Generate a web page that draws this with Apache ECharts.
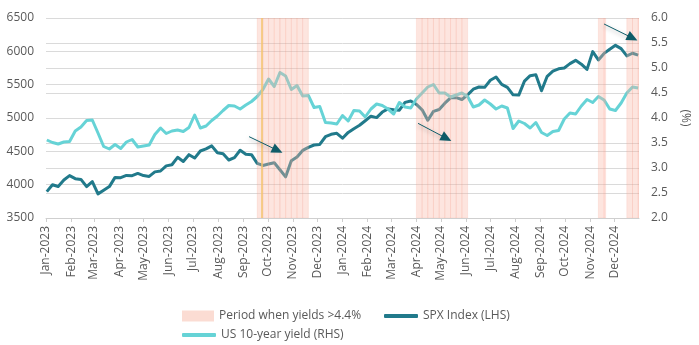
<!DOCTYPE html>
<html>
<head>
<meta charset="utf-8">
<script src="https://cdn.jsdelivr.net/npm/echarts@6/dist/echarts.min.js"></script>
<style>
html,body{margin:0;padding:0;background:#fff;}
#chart{width:699px;height:345px;}
</style>
</head>
<body>
<div id="chart"></div>
<script>
// ---- data (weekly, dated at start of week) ----
const firstWeek = [2023, 0, 2];
const spx = [
  3895,3999,3973,4071, 4136,4090,4079,3970, 4046,3862,3917,3971,4109,
  4105,4138,4134,4169, 4136,4124,4192,4205, 4282,4299,4410,4348,4450,
  4399,4505,4536,4582, 4478,4464,4370,4406, 4516,4457,4450,4320,4288,
  4309,4328,4224,4117, 4358,4415,4514,4559, 4595,4604,4719,4755,4770,
  4697,4784,4840,4891, 4959,5027,5006,5089, 5137,5124,5117,5234,5254,
  5204,5123,4967,5100, 5128,5223,5303,5305,5278, 5347,5432,5465,5460,
  5567,5615,5505,5459, 5347,5344,5554,5635,5648, 5408,5626,5703,5738,
  5751,5815,5865,5808, 5729,5996,5871,5969,6032, 6090,6040,5931,5971,
  5942
];
const yield10 = [
  3.56,3.51,3.48,3.52, 3.53,3.74,3.82,3.95, 3.96,3.70,3.43,3.38,3.47,
  3.39,3.52,3.57,3.42, 3.44,3.46,3.67,3.80, 3.69,3.74,3.76,3.73,3.81,
  4.06,3.80,3.84,3.95, 4.04,4.15,4.25,4.24, 4.18,4.26,4.33,4.43,4.57,
  4.78,4.63,4.91,4.84, 4.57,4.65,4.44,4.45, 4.21,4.23,3.91,3.90,3.88,
  4.05,3.94,4.15,4.14, 4.02,4.18,4.28,4.25, 4.18,4.08,4.31,4.22,4.20,
  4.38,4.50,4.62,4.67, 4.50,4.50,4.42,4.46,4.50, 4.43,4.22,4.26,4.36,
  4.28,4.18,4.24,4.20, 3.79,3.94,3.89,3.80,3.91, 3.71,3.65,3.73,3.75,
  3.98,4.10,4.08,4.24, 4.37,4.31,4.43,4.36,4.18, 4.15,4.30,4.50,4.62,
  4.60
];
// shaded periods (yields > 4.4%), weekly blocks
const shadeStart = ['2023-09-18','2023-09-25','2023-10-02','2023-10-09','2023-10-16','2023-10-23','2023-10-30','2023-11-06','2023-11-13',
  '2024-04-01','2024-04-08','2024-04-15','2024-04-22','2024-04-29','2024-05-06','2024-05-13','2024-05-20','2024-05-27',
  '2024-11-11','2024-11-18','2024-12-16','2024-12-23','2024-12-30'];
const shadeEnd = ['2023-09-25','2023-10-02','2023-10-09','2023-10-16','2023-10-23','2023-10-30','2023-11-06','2023-11-13','2023-11-20',
  '2024-04-08','2024-04-15','2024-04-22','2024-04-29','2024-05-06','2024-05-13','2024-05-20','2024-05-27','2024-06-03',
  '2024-11-18','2024-11-20','2024-12-23','2024-12-30','2024-12-31'];
const markerDate = '2023-09-24';
// annotation arrows on SPX scale
const arrowStart = [['2023-09-08',4720],['2024-04-03',4920],['2024-11-18',6410]];
const arrowEnd   = [['2023-10-13',4515],['2024-05-08',4695],['2024-12-23',6200]];
const monthNames = ['Jan','Feb','Mar','Apr','May','Jun','Jul','Aug','Sep','Oct','Nov','Dec'];
const leftTicks = {min:3500, max:6500, interval:500};
const rightTicks = {min:2.0, max:6.0, interval:0.5};

// ---- build ----
function ts(s){ const p = s.split('-').map(Number); return new Date(p[0], p[1]-1, p[2]).getTime(); }
const weekDates = spx.map((_, i) => new Date(firstWeek[0], firstWeek[1], firstWeek[2] + 7*i).getTime());
const spxData = spx.map((v, i) => [weekDates[i], v]);
const yldData = yield10.map((v, i) => [weekDates[i], v]);
const shadeData = shadeStart.map((s, i) => [ts(s), ts(shadeEnd[i])]);
const arrowLines = arrowStart.map((a, i) => [
  {coord:[ts(a[0]), a[1]]},
  {coord:[ts(arrowEnd[i][0]), arrowEnd[i][1]]}
]);

const FONT = 'Open Sans';
const TXT = '#595959';
const SPX_C = '#217a8b';
const YLD_C = '#66d3d6';
const GRID_C = '#dadada';

const chart = echarts.init(document.getElementById('chart'), null, {renderer:'canvas'});
chart.setOption({
  animation:false,
  textStyle:{fontFamily:FONT},
  grid:{left:46, right:59, top:18, bottom:127},
  legend:[
    {left:177, top:305, itemWidth:32, itemHeight:11, itemGap:20,
     textStyle:{fontFamily:FONT, fontSize:12, color:TXT},
     data:[{name:'Period when yields >4.4%', icon:'rect', itemStyle:{color:'#fbdcd3', borderWidth:0}}], selectedMode:false},
    {left:379, top:305, itemWidth:34, itemHeight:4,
     textStyle:{fontFamily:FONT, fontSize:12, color:TXT},
     data:[{name:'SPX Index (LHS)', icon:'roundRect'}], selectedMode:false},
    {left:177, top:324, itemWidth:34, itemHeight:4,
     textStyle:{fontFamily:FONT, fontSize:12, color:TXT},
     data:[{name:'US 10-year yield (RHS)', icon:'roundRect'}], selectedMode:false}
  ],
  xAxis:{
    type:'time', min:ts('2023-01-01'), max:ts('2024-12-31'),
    splitNumber:24, minInterval:28*86400000, maxInterval:31*86400000,
    axisLine:{show:true, lineStyle:{color:'#cfcfcf', width:1}},
    axisTick:{show:true, length:4, lineStyle:{color:'#cfcfcf'}},
    splitLine:{show:false},
    axisLabel:{rotate:90, margin:8, fontFamily:FONT, fontSize:12, color:TXT, hideOverlap:false,
      showMaxLabel:false,
      formatter:function(v){ const d = new Date(v); return monthNames[d.getMonth()] + '-' + d.getFullYear(); }}
  },
  yAxis:[
    {type:'value', min:leftTicks.min, max:leftTicks.max, interval:leftTicks.interval,
     axisLine:{show:false}, axisTick:{show:false},
     splitLine:{lineStyle:{color:GRID_C, width:1}},
     axisLabel:{margin:12, fontFamily:FONT, fontSize:12, color:TXT, formatter:v => String(v)}},
    {type:'value', min:rightTicks.min, max:rightTicks.max, interval:rightTicks.interval, position:'right',
     name:'(%)', nameLocation:'middle', nameGap:40, nameRotate:-90,
     nameTextStyle:{fontFamily:FONT, fontSize:12, color:TXT},
     axisLine:{show:false}, axisTick:{show:false},
     splitLine:{lineStyle:{color:GRID_C, width:1}},
     axisLabel:{margin:12, fontFamily:FONT, fontSize:12, color:TXT, formatter:v => v.toFixed(1)}}
  ],
  series:[
    {name:'SPX Index (LHS)', type:'line', yAxisIndex:0, data:spxData, z:2,
     showSymbol:false, symbol:'none', color:SPX_C,
     lineStyle:{color:SPX_C, width:3, join:'round'},
     markLine:{silent:true, z:6, symbol:['none','triangle'], symbolSize:[10,11],
       label:{show:false}, emphasis:{disabled:true},
       lineStyle:{color:'#0e5c68', width:1, type:'solid', shadowColor:'rgba(0,0,0,0.35)', shadowBlur:4, shadowOffsetY:2},
       data:arrowLines}},
    {name:'US 10-year yield (RHS)', type:'line', yAxisIndex:1, data:yldData, z:2,
     showSymbol:false, symbol:'none', color:YLD_C,
     lineStyle:{color:YLD_C, width:3, join:'round'},
     markLine:{silent:true, z:4, symbol:['none','none'], label:{show:false}, emphasis:{disabled:true},
       lineStyle:{color:'#f5c46c', width:1.5, type:'solid'},
       data:[{xAxis:ts(markerDate)}]}},
    {name:'Period when yields >4.4%', type:'custom', data:shadeData, z:3, clip:true,
     encode:{x:[0,1]}, itemStyle:{color:'#fbdcd3'}, silent:true,
     renderItem:function(params, api){
       const s = api.coord([api.value(0), leftTicks.min]);
       const e = api.coord([api.value(1), leftTicks.min]);
       const cs = params.coordSys;
       return {type:'rect', shape:{x:s[0], y:cs.y, width:e[0]-s[0], height:cs.height},
         style:{fill:'rgba(249,184,166,0.36)', stroke:'rgba(240,150,130,0.16)', lineWidth:1}};
     }}
  ]
});
</script>
</body>
</html>
